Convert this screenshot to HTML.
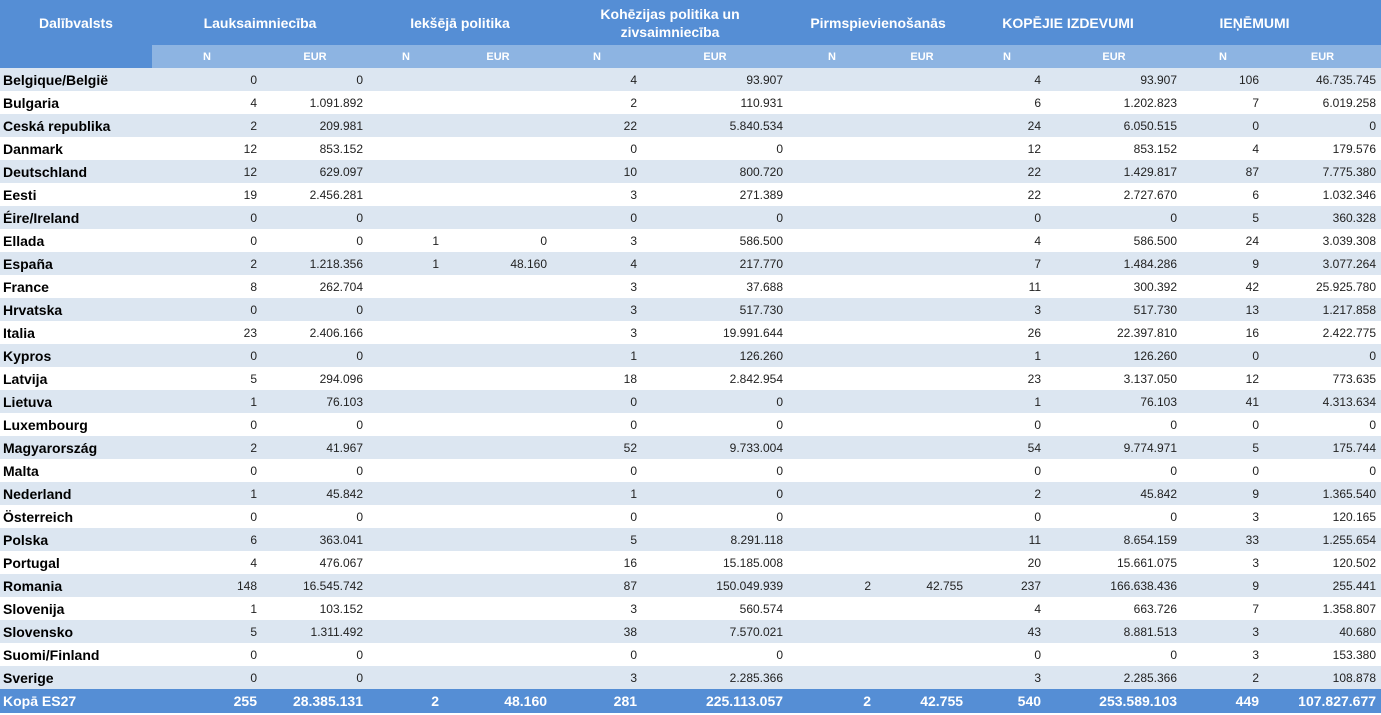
<!DOCTYPE html>
<html><head><meta charset="utf-8"><style>
html,body{margin:0;padding:0;background:#fff;width:1381px;height:715px;overflow:hidden}
table{border-collapse:collapse;table-layout:fixed;width:1381px;font-family:"Liberation Sans",Arial,sans-serif}
td,th{padding:0 5px 0 0;white-space:nowrap;overflow:hidden;box-sizing:border-box}
th.g{background:#558ED5;color:#fff;font-size:14px;font-weight:bold;height:45px;text-align:center;padding:0;line-height:18px}
tr.s td{background:#8DB4E2;color:#fff;font-size:11px;height:23px;text-align:center;padding:0;font-weight:bold}
tr.s td.f{background:#558ED5}
tbody tr td{height:23px;font-size:12px;text-align:right;color:#222}
tbody tr td:first-child{text-align:left;font-weight:bold;font-size:14px;color:#000;padding-left:3px}
tbody tr:nth-child(odd) td{background:#DCE6F1}
tr.t td{background:#558ED5!important;color:#fff!important;font-weight:bold;font-size:14px!important;height:24px}
</style></head><body>
<table>
<colgroup><col style="width:152px"><col style="width:110px"><col style="width:106px"><col style="width:76px"><col style="width:108px"><col style="width:90px"><col style="width:146px"><col style="width:88px"><col style="width:92px"><col style="width:78px"><col style="width:136px"><col style="width:82px"><col style="width:117px"></colgroup>
<thead>
<tr><th class="g">Dalībvalsts</th><th class="g" colspan="2">Lauksaimniecība</th><th class="g" colspan="2">Iekšējā politika</th><th class="g" colspan="2">Kohēzijas politika un<br>zivsaimniecība</th><th class="g" colspan="2">Pirmspievienošanās</th><th class="g" colspan="2" style="padding-right:14px">KOPĒJIE IZDEVUMI</th><th class="g" colspan="2" style="padding-right:54px">IEŅĒMUMI</th></tr>
<tr class="s"><td class="f"></td><td>N</td><td>EUR</td><td>N</td><td>EUR</td><td>N</td><td>EUR</td><td>N</td><td>EUR</td><td>N</td><td>EUR</td><td>N</td><td>EUR</td></tr>
</thead>
<tbody>
<tr><td>Belgique/België</td><td>0</td><td>0</td><td></td><td></td><td>4</td><td>93.907</td><td></td><td></td><td>4</td><td>93.907</td><td>106</td><td>46.735.745</td></tr>
<tr><td>Bulgaria</td><td>4</td><td>1.091.892</td><td></td><td></td><td>2</td><td>110.931</td><td></td><td></td><td>6</td><td>1.202.823</td><td>7</td><td>6.019.258</td></tr>
<tr><td>Ceská republika</td><td>2</td><td>209.981</td><td></td><td></td><td>22</td><td>5.840.534</td><td></td><td></td><td>24</td><td>6.050.515</td><td>0</td><td>0</td></tr>
<tr><td>Danmark</td><td>12</td><td>853.152</td><td></td><td></td><td>0</td><td>0</td><td></td><td></td><td>12</td><td>853.152</td><td>4</td><td>179.576</td></tr>
<tr><td>Deutschland</td><td>12</td><td>629.097</td><td></td><td></td><td>10</td><td>800.720</td><td></td><td></td><td>22</td><td>1.429.817</td><td>87</td><td>7.775.380</td></tr>
<tr><td>Eesti</td><td>19</td><td>2.456.281</td><td></td><td></td><td>3</td><td>271.389</td><td></td><td></td><td>22</td><td>2.727.670</td><td>6</td><td>1.032.346</td></tr>
<tr><td>Éire/Ireland</td><td>0</td><td>0</td><td></td><td></td><td>0</td><td>0</td><td></td><td></td><td>0</td><td>0</td><td>5</td><td>360.328</td></tr>
<tr><td>Ellada</td><td>0</td><td>0</td><td>1</td><td>0</td><td>3</td><td>586.500</td><td></td><td></td><td>4</td><td>586.500</td><td>24</td><td>3.039.308</td></tr>
<tr><td>España</td><td>2</td><td>1.218.356</td><td>1</td><td>48.160</td><td>4</td><td>217.770</td><td></td><td></td><td>7</td><td>1.484.286</td><td>9</td><td>3.077.264</td></tr>
<tr><td>France</td><td>8</td><td>262.704</td><td></td><td></td><td>3</td><td>37.688</td><td></td><td></td><td>11</td><td>300.392</td><td>42</td><td>25.925.780</td></tr>
<tr><td>Hrvatska</td><td>0</td><td>0</td><td></td><td></td><td>3</td><td>517.730</td><td></td><td></td><td>3</td><td>517.730</td><td>13</td><td>1.217.858</td></tr>
<tr><td>Italia</td><td>23</td><td>2.406.166</td><td></td><td></td><td>3</td><td>19.991.644</td><td></td><td></td><td>26</td><td>22.397.810</td><td>16</td><td>2.422.775</td></tr>
<tr><td>Kypros</td><td>0</td><td>0</td><td></td><td></td><td>1</td><td>126.260</td><td></td><td></td><td>1</td><td>126.260</td><td>0</td><td>0</td></tr>
<tr><td>Latvija</td><td>5</td><td>294.096</td><td></td><td></td><td>18</td><td>2.842.954</td><td></td><td></td><td>23</td><td>3.137.050</td><td>12</td><td>773.635</td></tr>
<tr><td>Lietuva</td><td>1</td><td>76.103</td><td></td><td></td><td>0</td><td>0</td><td></td><td></td><td>1</td><td>76.103</td><td>41</td><td>4.313.634</td></tr>
<tr><td>Luxembourg</td><td>0</td><td>0</td><td></td><td></td><td>0</td><td>0</td><td></td><td></td><td>0</td><td>0</td><td>0</td><td>0</td></tr>
<tr><td>Magyarország</td><td>2</td><td>41.967</td><td></td><td></td><td>52</td><td>9.733.004</td><td></td><td></td><td>54</td><td>9.774.971</td><td>5</td><td>175.744</td></tr>
<tr><td>Malta</td><td>0</td><td>0</td><td></td><td></td><td>0</td><td>0</td><td></td><td></td><td>0</td><td>0</td><td>0</td><td>0</td></tr>
<tr><td>Nederland</td><td>1</td><td>45.842</td><td></td><td></td><td>1</td><td>0</td><td></td><td></td><td>2</td><td>45.842</td><td>9</td><td>1.365.540</td></tr>
<tr><td>Österreich</td><td>0</td><td>0</td><td></td><td></td><td>0</td><td>0</td><td></td><td></td><td>0</td><td>0</td><td>3</td><td>120.165</td></tr>
<tr><td>Polska</td><td>6</td><td>363.041</td><td></td><td></td><td>5</td><td>8.291.118</td><td></td><td></td><td>11</td><td>8.654.159</td><td>33</td><td>1.255.654</td></tr>
<tr><td>Portugal</td><td>4</td><td>476.067</td><td></td><td></td><td>16</td><td>15.185.008</td><td></td><td></td><td>20</td><td>15.661.075</td><td>3</td><td>120.502</td></tr>
<tr><td>Romania</td><td>148</td><td>16.545.742</td><td></td><td></td><td>87</td><td>150.049.939</td><td>2</td><td>42.755</td><td>237</td><td>166.638.436</td><td>9</td><td>255.441</td></tr>
<tr><td>Slovenija</td><td>1</td><td>103.152</td><td></td><td></td><td>3</td><td>560.574</td><td></td><td></td><td>4</td><td>663.726</td><td>7</td><td>1.358.807</td></tr>
<tr><td>Slovensko</td><td>5</td><td>1.311.492</td><td></td><td></td><td>38</td><td>7.570.021</td><td></td><td></td><td>43</td><td>8.881.513</td><td>3</td><td>40.680</td></tr>
<tr><td>Suomi/Finland</td><td>0</td><td>0</td><td></td><td></td><td>0</td><td>0</td><td></td><td></td><td>0</td><td>0</td><td>3</td><td>153.380</td></tr>
<tr><td>Sverige</td><td>0</td><td>0</td><td></td><td></td><td>3</td><td>2.285.366</td><td></td><td></td><td>3</td><td>2.285.366</td><td>2</td><td>108.878</td></tr>
<tr class="t"><td>Kopā ES27</td><td>255</td><td>28.385.131</td><td>2</td><td>48.160</td><td>281</td><td>225.113.057</td><td>2</td><td>42.755</td><td>540</td><td>253.589.103</td><td>449</td><td>107.827.677</td></tr>
</tbody></table>
</body></html>
